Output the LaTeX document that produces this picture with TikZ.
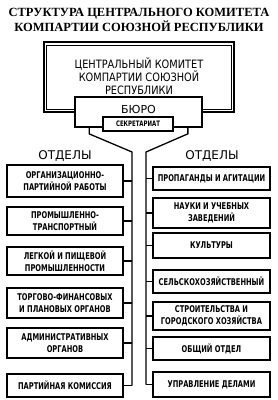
\documentclass[tikz,border=0pt]{standalone}
\usepackage{fontspec}
\usetikzlibrary{positioning,calc}
\newfontfamily\titlefont{Liberation Serif}
\newfontfamily\boxfont[FakeStretch=0.72]{DejaVu Sans}
\newfontfamily\headfont[FakeStretch=0.85]{DejaVu Sans}
\newfontfamily\plainfont{DejaVu Sans}
\tikzset{
  titletext/.style={font=\titlefont\bfseries\fontsize{12.5}{14.5}\selectfont,align=center},
  deptbox/.style={draw,line width=1.7pt,fill=white,align=center,inner sep=1pt,
    font=\boxfont\bfseries\fontsize{9.3}{12}\selectfont},
  leftdept/.style={deptbox,minimum width=116pt},
  rightdept/.style={deptbox,minimum width=117pt},
  grouplabel/.style={font=\plainfont\fontsize{12}{14}\selectfont},
  linkline/.style={line width=1.3pt}
}
\begin{document}
\begin{tikzpicture}[x=1pt,y={(0,-1pt)}]
  \useasboundingbox (0,0) rectangle (277,400);
  \node[titletext] (title) at (139,20) {СТРУКТУРА ЦЕНТРАЛЬНОГО КОМИТЕТА\\КОМПАРТИИ СОЮЗНОЙ РЕСПУБЛИКИ};
  \node[draw,line width=2.6pt,minimum width=190pt,minimum height=70pt,align=center,
    font=\headfont\fontsize{11.5}{13}\selectfont] (ck) at (139,77)
    {\raisebox{2pt}{ЦЕНТРАЛЬНЫЙ КОМИТЕТ}\\\raisebox{2pt}{КОМПАРТИИ СОЮЗНОЙ}\\\raisebox{2pt}{РЕСПУБЛИКИ}};
  \draw[line width=1pt] ([shift={(4pt,-4.5pt)}]ck.north west) rectangle ([shift={(-4pt,4pt)}]ck.south east);
  \node[draw,line width=1.7pt,fill=white,minimum width=127pt,minimum height=30pt,
    font=\plainfont\fontsize{11}{13}\selectfont] (buro) at (138.5,112) {\raisebox{5pt}{БЮРО}};
  \node[draw,line width=1.3pt,fill=white,minimum width=70pt,minimum height=14pt,inner sep=0pt,
    font=\boxfont\bfseries\fontsize{7.5}{9}\selectfont] (secr) at (138,124) {СЕКРЕТАРИАТ};
  \node[grouplabel] (lhead) at (65,156) {ОТДЕЛЫ};
  \node[grouplabel] (rhead) at (212,156) {ОТДЕЛЫ};
  \node[leftdept,minimum height=32pt] (lorg) at (65,181) {ОРГАНИЗАЦИОННО-\\ПАРТИЙНОЙ РАБОТЫ};
  \node[leftdept,minimum height=28pt] (lprom) at (65,221) {ПРОМЫШЛЕННО-\\ТРАНСПОРТНЫЙ};
  \node[leftdept,minimum height=28pt] (lleg) at (65,261) {ЛЕГКОЙ И ПИЩЕВОЙ\\ПРОМЫШЛЕННОСТИ};
  \node[leftdept,minimum height=30pt] (ltorg) at (65,303) {ТОРГОВО-ФИНАНСОВЫХ\\И ПЛАНОВЫХ ОРГАНОВ};
  \node[leftdept,minimum height=30pt] (ladm) at (65,343) {АДМИНИСТРАТИВНЫХ\\ОРГАНОВ};
  \node[leftdept,minimum height=23pt] (lkom) at (65,385.5) {ПАРТИЙНАЯ КОМИССИЯ};
  \node[rightdept,minimum height=23pt] (rprop) at (211.5,178.5) {ПРОПАГАНДЫ И АГИТАЦИИ};
  \node[rightdept,minimum height=30pt] (rnauk) at (211.5,213) {НАУКИ И УЧЕБНЫХ\\ЗАВЕДЕНИЙ};
  \node[rightdept,minimum height=25pt] (rkult) at (211.5,245.5) {КУЛЬТУРЫ};
  \node[rightdept,minimum height=23pt] (rsel) at (211.5,281.5) {СЕЛЬСКОХОЗЯЙСТВЕННЫЙ};
  \node[rightdept,minimum height=28pt] (rstroi) at (211.5,316) {СТРОИТЕЛЬСТВА И\\ГОРОДСКОГО ХОЗЯЙСТВА};
  \node[rightdept,minimum height=23pt] (robsh) at (211.5,348.5) {ОБЩИЙ ОТДЕЛ};
  \node[rightdept,minimum height=25pt] (rdel) at (211.5,384.5) {УПРАВЛЕНИЕ ДЕЛАМИ};
  \coordinate (lfork) at ([xshift=15pt]buro.south west);
  \coordinate (rfork) at ([xshift=-15pt]buro.south east);
  \coordinate (lspine) at (132,152);
  \coordinate (rspine) at (146,152);
  \draw[linkline] (lfork) -- ++(0,6) -- (lspine) -- (lspine |- lkom.east);
  \draw[linkline] (rfork) -- ++(0,6) -- (rspine) -- (rspine |- rdel.west);
  \foreach \n in {lorg,lprom,lleg,ltorg,ladm,lkom}
    \draw[linkline] (\n.east) -- (\n.east -| lspine);
  \foreach \n in {rprop,rnauk,rkult,rsel,rstroi,robsh,rdel}
    \draw[linkline] (\n.west) -- (\n.west -| rspine);
\end{tikzpicture}
\end{document}
